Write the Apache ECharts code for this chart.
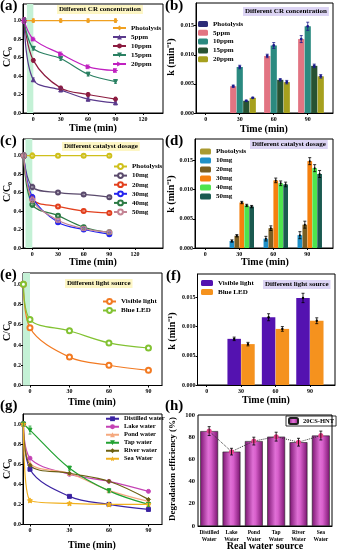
<!DOCTYPE html>
<html>
<head>
<meta charset="utf-8">
<script src="https://cdn.jsdelivr.net/npm/echarts@6/dist/echarts.min.js"></script>
<style>
html,body{margin:0;padding:0;background:#fff;}
#chart{width:337px;height:550px;}
</style>
</head>
<body>
<div id="chart"></div>
<script>
const FONT = '"Liberation Serif", "Times New Roman", serif';

// ---------- (a) C/C0, different CR concentration ----------
const timeA = [-10, 0, 30, 60, 90];
const aPhotolysis = [1.0, 1.0, 1.0, 1.0, 1.0];
const a5ppm  = [1.0, 0.36, 0.25, 0.15, 0.11];
const a10ppm = [1.0, 0.57, 0.27, 0.20, 0.15];
const a15ppm = [1.0, 0.70, 0.59, 0.42, 0.34];
const a20ppm = [1.0, 0.80, 0.64, 0.50, 0.46];
const aErr   = [0.03, 0.02, 0.02, 0.02, 0.02];

// ---------- (b) rate constant k, different CR concentration ----------
const kTime = [0, 30, 60, 90];
const bPhotolysis = [0, 0, 0, 0];
const b5ppm  = [0, 0.0046, 0.0098, 0.0127];
const b10ppm = [0, 0.0079, 0.0116, 0.0149];
const b15ppm = [0, 0.0021, 0.0057, 0.0081];
const b20ppm = [0, 0.0026, 0.0053, 0.0063];
const b5Err  = [0, 0.0002, 0.0003, 0.0006];
const b10Err = [0, 0.0003, 0.0005, 0.0007];
const b15Err = [0, 0.0001, 0.0002, 0.0003];
const b20Err = [0, 0.0001, 0.0003, 0.0003];

// ---------- (c) C/C0, different catalyst dosage ----------
const timeC = [-10, 0, 30, 60, 90];
const cPhotolysis = [1.0, 1.0, 1.0, 1.0, 1.0];
const c10mg = [1.0, 0.66, 0.60, 0.58, 0.55];
const c20mg = [1.0, 0.53, 0.45, 0.40, 0.38];
const c30mg = [1.0, 0.55, 0.28, 0.20, 0.15];
const c40mg = [1.0, 0.47, 0.35, 0.225, 0.17];
const c50mg = [1.0, 0.52, 0.30, 0.21, 0.17];
const cErr  = [0.03, 0.03, 0.02, 0.02, 0.02];

// ---------- (d) rate constant k, different catalyst dosage ----------
const dPhotolysis = [0, 0, 0, 0];
const d10mg = [0, 0.0012, 0.0016, 0.0022];
const d20mg = [0, 0.0021, 0.0034, 0.0040];
const d30mg = [0, 0.0078, 0.0116, 0.0149];
const d40mg = [0, 0.0073, 0.0111, 0.0137];
const d50mg = [0, 0.0071, 0.0109, 0.0127];
const dErr  = [0, 0.0002, 0.0004, 0.0006];

// ---------- (e) C/C0, different light source ----------
const timeE = [-5, 0, 30, 60, 90];
const eVisible = [1.0, 0.57, 0.28, 0.20, 0.15];
const eBlueLED = [1.0, 0.65, 0.54, 0.42, 0.37];

// ---------- (f) rate constant k, different light source ----------
const fVisible = [0, 0.0079, 0.0116, 0.0149];
const fBlueLED = [0, 0.0070, 0.0096, 0.0110];
const fVisErr  = [0, 0.0003, 0.0006, 0.0008];
const fLedErr  = [0, 0.0003, 0.0004, 0.0005];

// ---------- (g) C/C0, real water samples ----------
const timeG = [-5, 0, 30, 60, 90];
const gDistilled = [1.0, 0.55, 0.28, 0.20, 0.15];
const gLake  = [1.0, 0.66, 0.50, 0.43, 0.33];
const gPond  = [1.0, 0.61, 0.51, 0.34, 0.23];
const gTap   = [1.0, 0.94, 0.56, 0.335, 0.20];
const gRiver = [1.0, 0.59, 0.51, 0.43, 0.25];
const gSea   = [1.0, 0.24, 0.21, 0.20, 0.20];
const gErr   = [0.02, 0.04, 0.02, 0.02, 0.02];

// ---------- (h) degradation efficiency in real water ----------
const waterSources = ['Distilled\nWater', 'Lake\nWater', 'Pond\nWater', 'Tap\nWater', 'River\nWater', 'Sea\nWater'];
const hEfficiency = [85.5, 67, 76.5, 80.5, 75.5, 81.5];
const hErr = [4, 3, 3.5, 4, 3.5, 4];

// ---------- layout ----------
const grids = [
  {left: 23,    top: 4,   width: 140,   height: 109},   // a
  {left: 196,   top: 3,   width: 137,   height: 110},   // b
  {left: 23,    top: 139, width: 140,   height: 109},   // c
  {left: 195,   top: 139, width: 138,   height: 109},   // d
  {left: 23,    top: 273, width: 139,   height: 112.5}, // e
  {left: 197.5, top: 274, width: 137.5, height: 111},   // f
  {left: 23,    top: 414, width: 139,   height: 110.5}, // g
  {left: 198,   top: 415, width: 134,   height: 111}    // h
];

const labelStyle = {fontSize: 6, fontWeight: 'bold', fontFamily: FONT, color: '#000'};

function valX(gi, min, max, ticks) {
  return {
    type: 'value', gridIndex: gi, min, max,
    splitLine: {show: false},
    axisLine: {onZero: false, lineStyle: {color: '#000', width: 1}},
    axisTick: {customValues: ticks, length: 2, lineStyle: {color: '#000', width: 1}},
    axisLabel: Object.assign({customValues: ticks, margin: 3}, labelStyle)
  };
}
function valY(gi, min, max, ticks, digits) {
  return {
    type: 'value', gridIndex: gi, min, max,
    splitLine: {show: false},
    axisLine: {onZero: false, lineStyle: {color: '#000', width: 1}},
    axisTick: {customValues: ticks, length: 2, lineStyle: {color: '#000', width: 1}},
    axisLabel: Object.assign({customValues: ticks, margin: 2, formatter: v => v.toFixed(digits)}, labelStyle)
  };
}

const xAxis = [
  valX(0, -11.3, 142, [0, 30, 60, 90, 120]),
  valX(1, -8.6, 112.3, [0, 30, 60, 90]),
  valX(2, -10.9, 152.7, [0, 30, 60, 90, 120]),
  valX(3, -9.1, 112.7, [0, 30, 60, 90]),
  valX(4, -5.3, 100.3, [0, 30, 60, 90]),
  valX(5, -8.0, 111.9, [0, 30, 60, 90]),
  valX(6, -5.3, 100.3, [0, 30, 60, 90]),
  {
    type: 'category', gridIndex: 7, data: waterSources,
    axisLine: {lineStyle: {color: '#000', width: 1}},
    axisTick: {show: false},
    axisLabel: Object.assign({interval: 0, margin: 3, lineHeight: 7}, labelStyle, {fontSize: 5.5})
  }
];
const ccTicks = [0, 0.2, 0.4, 0.6, 0.8, 1.0];
const kTicks = [0, 0.005, 0.010, 0.015];
const yAxis = [
  valY(0, 0, 1.18, ccTicks, 1),
  valY(1, 0, 0.0189, kTicks, 3),
  valY(2, 0, 1.18, ccTicks, 1),
  valY(3, 0, 0.0187, kTicks, 3),
  valY(4, 0, 1.11, ccTicks, 1),
  valY(5, 0, 0.019, kTicks, 3),
  valY(6, 0, 1.10, ccTicks, 1),
  {
    type: 'value', gridIndex: 7, min: 0, max: 100, interval: 20,
    splitLine: {show: false},
    axisLine: {lineStyle: {color: '#000', width: 1}},
    axisTick: {length: 2, lineStyle: {color: '#000'}},
    axisLabel: Object.assign({margin: 3}, labelStyle, {fontSize: 6.5})
  }
];

const series = [];

// smooth line with symbols
function addLine(gi, name, xs, ys, color, symbol, extra) {
  series.push(Object.assign({
    type: 'line', name, xAxisIndex: gi, yAxisIndex: gi,
    data: xs.map((x, i) => [x, ys[i]]),
    smooth: 0.35, symbol, symbolSize: 4,
    lineStyle: {color, width: 1.2},
    itemStyle: {color, borderColor: color},
    z: 3
  }, extra || {}));
}

// vertical error bars with caps; dx shifts the bar sideways in pixels
function addErr(gi, xs, ys, errs, color, dx, cap, dot) {
  series.push({
    type: 'custom', xAxisIndex: gi, yAxisIndex: gi, silent: true, z: 6,
    data: xs.map((x, i) => [x, ys[i], errs[i]]),
    renderItem(params, api) {
      const x = api.value(0), y = api.value(1), e = api.value(2);
      if (!e) return null;
      const top = api.coord([x, y + e]);
      const bot = api.coord([x, y - e]);
      const mid = api.coord([x, y]);
      const cx = top[0] + (dx || 0);
      const st = {stroke: color, lineWidth: 0.8};
      const kids = [
        {type: 'line', shape: {x1: cx, y1: top[1], x2: cx, y2: bot[1]}, style: st},
        {type: 'line', shape: {x1: cx - cap, y1: top[1], x2: cx + cap, y2: top[1]}, style: st},
        {type: 'line', shape: {x1: cx - cap, y1: bot[1], x2: cx + cap, y2: bot[1]}, style: st}
      ];
      if (dot) kids.push({type: 'circle', shape: {cx, cy: mid[1], r: dot.r}, style: {fill: dot.color}});
      return {type: 'group', children: kids};
    }
  });
}

function barOffset(k, n, w, gap) {
  const total = n * w + (n - 1) * gap * w;
  return -total / 2 + w / 2 + k * w * (1 + gap);
}

function addBars(gi, list, w, gap, errColor, dot) {
  list.forEach((s, k) => {
    series.push({
      type: 'bar', name: s.name, xAxisIndex: gi, yAxisIndex: gi,
      data: kTime.map((x, i) => [x, s.values[i]]),
      barWidth: w, barGap: (gap * 100) + '%',
      itemStyle: Object.assign({color: s.color}, s.style || {}),
      z: 2
    });
    if (s.err) addErr(gi, kTime, s.values, s.err, errColor, barOffset(k, list.length, w, gap), 1.5, dot);
  });
}

const greenBand = (x0) => ({
  silent: true,
  itemStyle: {color: '#c4f1d6'},
  data: [[{xAxis: x0}, {xAxis: 0}]]
});

// (a)
addLine(0, 'Photolysis|a', timeA, aPhotolysis, '#f0a020', 'diamond', {markArea: greenBand(-7)});
addErr(0, timeA, aPhotolysis, aErr, '#f0a020', 0, 1.5);
addLine(0, '5ppm|a', timeA, a5ppm, '#5a3a8c', 'triangle');
addErr(0, timeA, a5ppm, aErr, '#5a3a8c', 0, 1.5);
addLine(0, '10ppm|a', timeA, a10ppm, '#8c1c40', 'circle');
addErr(0, timeA, a10ppm, aErr, '#8c1c40', 0, 1.5);
addLine(0, '15ppm|a', timeA, a15ppm, '#2a8062', 'triangle', {symbolRotate: 180});
addErr(0, timeA, a15ppm, aErr, '#2a8062', 0, 1.5);
addLine(0, '20ppm|a', timeA, a20ppm, '#c020c0', 'triangle', {symbolRotate: 270});
addErr(0, timeA, a20ppm, aErr, '#c020c0', 0, 1.5);

// (b)
addBars(1, [
  {name: 'Photolysis|b', values: bPhotolysis, color: '#2c2c78'},
  {name: '5ppm|b',  values: b5ppm,  color: '#e27482', err: b5Err},
  {name: '10ppm|b', values: b10ppm, color: '#2b8a80', err: b10Err},
  {name: '15ppm|b', values: b15ppm, color: '#285232', err: b15Err},
  {name: '20ppm|b', values: b20ppm, color: '#a6a01e', err: b20Err}
], 6.2, 0.05, '#1a1a8a', {r: 1.4, color: '#1a1a8a'});

// (c)
addLine(2, 'Photolysis|c', timeC, cPhotolysis, '#cfc01c', 'emptyCircle', {markArea: greenBand(-8)});
addErr(2, timeC, cPhotolysis, cErr, '#cfc01c', 0, 1.5);
addLine(2, '10mg|c', timeC, c10mg, '#5a4a6c', 'emptyCircle');
addErr(2, timeC, c10mg, cErr, '#5a4a6c', 0, 1.5);
addLine(2, '20mg|c', timeC, c20mg, '#e2401e', 'emptyCircle');
addErr(2, timeC, c20mg, cErr, '#e2401e', 0, 1.5);
addLine(2, '30mg|c', timeC, c30mg, '#2424f0', 'emptyCircle');
addErr(2, timeC, c30mg, cErr, '#2424f0', 0, 1.5);
addLine(2, '40mg|c', timeC, c40mg, '#2c7a44', 'emptyCircle');
addErr(2, timeC, c40mg, cErr, '#2c7a44', 0, 1.5);
addLine(2, '50mg|c', timeC, c50mg, '#c48494', 'emptyCircle');
addErr(2, timeC, c50mg, cErr, '#c48494', 0, 1.5);

// (d)
addBars(3, [
  {name: 'Photolysis|d', values: dPhotolysis, color: '#aa9a30'},
  {name: '10mg|d', values: d10mg, color: '#1f90c8', err: dErr},
  {name: '20mg|d', values: d20mg, color: '#7a5e22', err: dErr},
  {name: '30mg|d', values: d30mg, color: '#f5800e', err: dErr},
  {name: '40mg|d', values: d40mg, color: '#4ee44e', err: dErr},
  {name: '50mg|d', values: d50mg, color: '#1a5a50', err: dErr}
], 4.7, 0.05, '#000', {r: 1, color: '#000'});

// (e)
addLine(4, 'Visible light|e', timeE, eVisible, '#f27a22', 'emptyCircle',
  {symbolSize: 5, markArea: greenBand(-5.3)});
addLine(4, 'Blue LED|e', timeE, eBlueLED, '#82c232', 'emptyCircle', {symbolSize: 5});

// (f)
addBars(5, [
  {name: 'Visible light|f', values: fVisible, color: '#5412b0', err: fVisErr},
  {name: 'Blue LED|f', values: fBlueLED, color: '#f5921e', err: fLedErr}
], 13.5, 0.02, '#000', {r: 1.2, color: '#000'});

// (g)
const STAR = 'path://M0,-10L2.9,-4L9.5,-3.1L4.8,1.5L5.9,8.1L0,5L-5.9,8.1L-4.8,1.5L-9.5,-3.1L-2.9,-4Z';
addLine(6, 'Distilled water|g', timeG, gDistilled, '#3a22a2', 'rect');
addLine(6, 'Lake water|g', timeG, gLake, '#c442b4', 'circle');
addLine(6, 'Pond water|g', timeG, gPond, '#f5a87e', 'triangle');
addLine(6, 'Tap water|g', timeG, gTap, '#22a232', 'triangle', {symbolRotate: 180});
addErr(6, timeG, gTap, gErr, '#22a232', 0, 1.5);
addLine(6, 'River water|g', timeG, gRiver, '#6c6012', 'diamond');
addLine(6, 'Sea Water|g', timeG, gSea, '#f0b020', STAR, {symbolSize: 5});

// (h)
series.push({
  type: 'bar', name: '20CS-HNT', xAxisIndex: 7, yAxisIndex: 7,
  data: hEfficiency, barWidth: '80%',
  itemStyle: {
    color: new echarts.graphic.LinearGradient(0, 0, 1, 0, [
      {offset: 0, color: '#7a1470'},
      {offset: 0.45, color: '#e070d6'},
      {offset: 0.6, color: '#d860cc'},
      {offset: 1, color: '#7a1470'}
    ]),
    borderColor: '#222', borderWidth: 0.6
  },
  z: 2
});
series.push({
  type: 'line', xAxisIndex: 7, yAxisIndex: 7, data: hEfficiency,
  symbol: 'circle', symbolSize: 5,
  lineStyle: {color: '#333', width: 1, type: 'dotted'},
  itemStyle: {color: '#e8408c'}, z: 4
});
series.push({
  type: 'custom', xAxisIndex: 7, yAxisIndex: 7, silent: true, z: 5,
  data: hEfficiency.map((v, i) => [i, v, hErr[i]]),
  renderItem(params, api) {
    const top = api.coord([api.value(0), api.value(1) + api.value(2)]);
    const bot = api.coord([api.value(0), api.value(1) - api.value(2)]);
    const st = {stroke: '#000', lineWidth: 0.8};
    return {type: 'group', children: [
      {type: 'line', shape: {x1: top[0], y1: top[1], x2: bot[0], y2: bot[1]}, style: st},
      {type: 'line', shape: {x1: top[0] - 1.5, y1: top[1], x2: top[0] + 1.5, y2: top[1]}, style: st},
      {type: 'line', shape: {x1: bot[0] - 1.5, y1: bot[1], x2: bot[0] + 1.5, y2: bot[1]}, style: st}
    ]};
  }
});

// ---------- legends ----------
const legText = {fontSize: 7, fontWeight: 'bold', fontFamily: FONT, color: '#000', lineHeight: 8};
function legend(names, left, top, opts) {
  return Object.assign({
    data: names, left, top, orient: 'vertical',
    itemWidth: 13, itemHeight: 6, itemGap: 1,
    padding: 0, selectedMode: false,
    formatter: n => n.split('|')[0],
    textStyle: legText
  }, opts || {});
}
const legends = [
  legend(['Photolysis|a', '5ppm|a', '10ppm|a', '15ppm|a', '20ppm|a'], 112, 24),
  legend(['Photolysis|b', '5ppm|b', '10ppm|b', '15ppm|b', '20ppm|b'], 198, 20, {itemWidth: 10, itemGap: 0.8}),
  legend(['Photolysis|c', '10mg|c', '20mg|c', '30mg|c', '40mg|c', '50mg|c'], 113, 162.5, {itemGap: 1.1}),
  legend(['Photolysis|d', '10mg|d', '20mg|d', '30mg|d', '40mg|d', '50mg|d'], 200, 147.5, {itemWidth: 11}),
  legend(['Visible light|e', 'Blue LED|e'], 102, 297.5),
  legend(['Visible light|f', 'Blue LED|f'], 201, 279, {itemWidth: 12}),
  legend(['Distilled water|g', 'Lake water|g', 'Pond water|g', 'Tap water|g', 'River water|g', 'Sea Water|g'],
    105, 415, {itemGap: 0.5, textStyle: Object.assign({}, legText, {fontSize: 6.5, lineHeight: 7.5})}),
  {
    data: ['20CS-HNT'], left: 286, top: 416, orient: 'vertical',
    itemWidth: 9, itemHeight: 6, padding: [1, 2, 1, 2], selectedMode: false,
    borderColor: '#000', borderWidth: 0.8,
    textStyle: Object.assign({}, legText, {fontSize: 6.5})
  }
];

// ---------- panel notes ----------
function note(text, left, top, bg) {
  return {
    text, left, top, padding: [1, 2],
    backgroundColor: bg,
    textStyle: {fontSize: 7, fontWeight: 'bold', fontFamily: FONT, color: '#000'}
  };
}
const YEL = '#fdf6c4', LAV = '#dcd4f4';
const titles = [
  note('Different CR concentration', 57, 5, YEL),
  note('Different CR concentration', 243, 7, LAV),
  note('Different catalyst dosage', 62, 142, YEL),
  note('Different catalyst dosage', 250, 140, LAV),
  note('Different light source', 65, 279, YEL),
  note('Different light source', 263, 280, LAV)
];

// ---------- panel letters and axis titles ----------
function txt(text, x, y, size, rot, align) {
  return {
    type: 'text', x, y, rotation: rot || 0, z: 100,
    style: {text, fontSize: size, fontWeight: 'bold', fontFamily: FONT, fill: '#000',
      align: align || 'center', verticalAlign: 'middle'}
  };
}
const V = Math.PI / 2;
const graphic = [
  txt('(a)', 0, 6, 15, 0, 'left'),
  txt('(b)', 165, 6, 15, 0, 'left'),
  txt('(c)', 0, 141, 15, 0, 'left'),
  txt('(d)', 165, 141, 15, 0, 'left'),
  txt('(e)', 0, 275, 15, 0, 'left'),
  txt('(f)', 166, 276, 15, 0, 'left'),
  txt('(g)', 0, 406, 15, 0, 'left'),
  txt('(h)', 165, 406, 15, 0, 'left'),

  txt('C/C\u2080', 7, 57, 10, V),
  txt('C/C\u2080', 7, 192, 10, V),
  txt('C/C\u2080', 7, 331, 10, V),
  txt('C/C\u2080', 7, 469, 10, V),
  txt('k (min\u207B\u00B9)', 171, 57, 10, V),
  txt('k (min\u207B\u00B9)', 171, 194, 10, V),
  txt('k (min\u207B\u00B9)', 172, 331, 10, V),
  txt('Degradation efficiency (%)', 173, 469, 9, V),

  txt('Time (min)', 93, 128, 10),
  txt('Time (min)', 264, 129, 10),
  txt('Time (min)', 93, 262, 10),
  txt('Time (min)', 265, 262, 10),
  txt('Time (min)', 92, 402, 10),
  txt('Time (min)', 266, 400, 10),
  txt('Time (min)', 92, 545, 10),
  txt('Real water source', 265, 546, 10)
];

const chart = echarts.init(document.getElementById('chart'), null, {renderer: 'canvas'});
chart.setOption({
  animation: false,
  grid: grids.map(g => Object.assign({show: true, borderColor: '#000', borderWidth: 1, containLabel: false}, g)),
  xAxis, yAxis,
  legend: legends,
  title: titles,
  graphic,
  series
});
</script>
</body>
</html>
